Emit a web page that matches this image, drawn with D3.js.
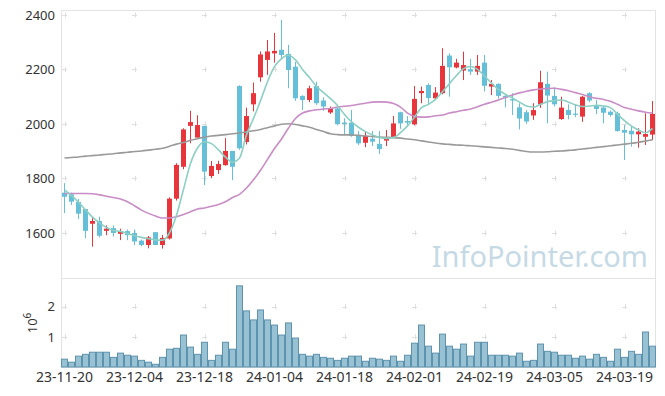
<!DOCTYPE html>
<html>
<head>
<meta charset="utf-8">
<script src="https://cdn.jsdelivr.net/npm/d3@7/dist/d3.min.js"></script>
<style>
  body { margin: 0; background: #fff; }
  svg { display: block; font-family: "Noto Sans", sans-serif; }
</style>
</head>
<body>
<div id="chart"></div>
<script>
// trading days (KRX), one per candle
const dates = [
  "2023-11-20","2023-11-21","2023-11-22","2023-11-23","2023-11-24","2023-11-27","2023-11-28","2023-11-29","2023-11-30","2023-12-01",
  "2023-12-04","2023-12-05","2023-12-06","2023-12-07","2023-12-08","2023-12-11","2023-12-12","2023-12-13","2023-12-14","2023-12-15",
  "2023-12-18","2023-12-19","2023-12-20","2023-12-21","2023-12-22","2023-12-26","2023-12-27","2023-12-28","2024-01-02","2024-01-03",
  "2024-01-04","2024-01-05","2024-01-08","2024-01-09","2024-01-10","2024-01-11","2024-01-12","2024-01-15","2024-01-16","2024-01-17",
  "2024-01-18","2024-01-19","2024-01-22","2024-01-23","2024-01-24","2024-01-25","2024-01-26","2024-01-29","2024-01-30","2024-01-31",
  "2024-02-01","2024-02-02","2024-02-05","2024-02-06","2024-02-07","2024-02-08","2024-02-13","2024-02-14","2024-02-15","2024-02-16",
  "2024-02-19","2024-02-20","2024-02-21","2024-02-22","2024-02-23","2024-02-26","2024-02-27","2024-02-28","2024-02-29","2024-03-04",
  "2024-03-05","2024-03-06","2024-03-07","2024-03-08","2024-03-11","2024-03-12","2024-03-13","2024-03-14","2024-03-15","2024-03-18",
  "2024-03-19","2024-03-20","2024-03-21","2024-03-22","2024-03-25"
];

const openP = [
  1748,1742,1714,1688,1634,1644,1608,1618,1597,1607,
  1600,1572,1556,1603,1556,1580,1726,1843,1993,1950,
  1993,1809,1831,1849,1901,2139,1934,2072,2171,2235,
  2259,2272,2257,2210,2103,2088,2139,2086,2042,2057,
  2005,2005,1960,1931,1946,1927,1939,1951,2043,2011,
  1999,2113,2143,2094,2113,2251,2207,2196,2201,2192,
  2225,2137,2147,2103,2091,2061,2043,2031,2072,2147,
  2103,2018,2051,2038,2027,2113,2066,2060,2045,2039,
  1978,1975,1962,1953,1961
];
const highP = [
  1783,1748,1725,1688,1658,1660,1628,1628,1616,1613,
  1613,1576,1589,1603,1593,1731,1856,1984,2048,2032,
  1993,1864,1865,1948,1901,2142,2060,2152,2266,2308,
  2334,2382,2290,2228,2105,2140,2155,2098,2064,2060,
  2021,2051,1974,1972,1974,1974,1978,2029,2045,2029,
  2139,2137,2149,2135,2278,2259,2239,2265,2238,2253,
  2253,2161,2149,2110,2113,2076,2051,2076,2195,2192,
  2135,2100,2072,2072,2102,2116,2088,2064,2049,2045,
  1996,1990,1984,2039,2084
];
const lowP = [
  1673,1703,1651,1581,1550,1584,1592,1587,1574,1574,
  1556,1551,1544,1556,1543,1576,1719,1834,1929,1950,
  1776,1801,1817,1847,1794,1905,1925,2046,2155,2180,
  2225,2235,2131,2085,2051,2080,2070,2048,2037,1995,
  1963,1953,1923,1915,1919,1890,1919,1948,1982,1996,
  1995,2076,2070,2088,2109,2100,2204,2161,2180,2180,
  2119,2106,2093,2061,2033,1980,2000,2015,2059,2002,
  2064,2015,2017,2025,2008,2080,2036,2002,2027,1972,
  1868,1917,1913,1923,1941
];
const closeP = [
  1733,1715,1671,1608,1644,1590,1616,1600,1607,1592,
  1569,1556,1584,1556,1582,1726,1850,1980,2007,1996,
  1825,1846,1853,1901,1843,1911,2029,2113,2255,2266,
  2268,2253,2198,2094,2088,2131,2076,2064,2057,1999,
  2000,1956,1929,1956,1935,1908,1951,2002,2002,2005,
  2092,2121,2095,2115,2213,2208,2225,2216,2192,2213,
  2140,2147,2103,2098,2086,2020,2009,2051,2153,2104,
  2072,2060,2033,2036,2100,2086,2055,2041,2033,1974,
  1968,1962,1972,1963,2037
];

// volume, millions of shares
const volume = [
  0.26,0.16,0.36,0.42,0.49,0.49,0.49,0.32,0.46,0.39,
  0.36,0.22,0.16,0.09,0.32,0.59,0.62,1.06,0.66,0.42,
  0.82,0.22,0.39,0.82,0.59,2.69,1.86,1.56,1.89,1.56,
  1.39,1.06,1.46,0.96,0.42,0.36,0.42,0.32,0.29,0.22,
  0.29,0.36,0.36,0.19,0.29,0.26,0.22,0.36,0.19,0.39,
  0.79,1.39,0.69,0.46,1.09,0.69,0.59,0.76,0.36,0.82,
  0.82,0.39,0.39,0.39,0.36,0.46,0.19,0.22,0.76,0.52,
  0.49,0.39,0.39,0.29,0.36,0.26,0.42,0.32,0.19,0.59,
  0.32,0.52,0.42,1.16,0.69
];

// moving averages
const ma5 = [
  1758,1737,1713,1685,1658,1637,1620,1609,1606,1598,
  1590,1584,1579,1575,1574,1600,1665,1760,1855,1912,
  1935,1928,1905,1878,1860,1875,1960,2020,2085,2155,
  2210,2240,2252,2235,2200,2170,2138,2115,2093,2068,
  2035,2008,1988,1972,1960,1950,1947,1950,1968,1993,
  2025,2060,2072,2090,2118,2148,2178,2203,2211,2200,
  2176,2150,2126,2108,2095,2080,2066,2062,2072,2082,
  2086,2088,2080,2070,2064,2066,2068,2066,2060,2036,
  2012,1992,1978,1968,1984
];
const ma20 = [
  1745,1745,1745,1745,1744,1740,1735,1730,1725,1715,
  1700,1684,1672,1662,1655,1655,1660,1668,1678,1688,
  1692,1698,1705,1715,1730,1742,1765,1795,1830,1870,
  1910,1945,1985,2020,2040,2048,2052,2055,2057,2062,
  2065,2068,2072,2076,2080,2081,2080,2075,2062,2040,
  2028,2025,2026,2030,2033,2040,2045,2050,2055,2063,
  2072,2080,2088,2097,2106,2114,2120,2125,2128,2130,
  2131,2127,2122,2115,2108,2100,2094,2090,2083,2072,
  2060,2054,2048,2043,2040
];
const ma60 = [
  1875,1877,1879,1882,1884,1886,1889,1891,1894,1896,
  1899,1901,1904,1907,1911,1918,1926,1932,1940,1946,
  1952,1956,1958,1961,1964,1967,1971,1975,1980,1986,
  1993,1999,2001,1998,1993,1988,1980,1972,1964,1961,
  1960,1960,1958,1956,1954,1952,1951,1950,1948,1945,
  1942,1938,1934,1930,1927,1925,1923,1922,1920,1918,
  1916,1914,1912,1910,1907,1903,1899,1897,1897,1898,
  1900,1901,1903,1905,1908,1911,1914,1917,1920,1923,
  1926,1929,1933,1937,1942
];

const priceTicks = [1600, 1800, 2000, 2200, 2400];
const volumeTicks = [1, 2];
const dateTicks = dates.filter((d, i) => i % 10 === 0);

const width = 665, height = 396;
const left = 61, right = 656;
const priceTop = 10, priceBottom = 278, volBottom = 367;

const upColor = '#e8353c', downColor = '#65bfd9';
const frameColor = '#e3e3e3', crossColor = '#dedede', textColor = '#333';

const svg = d3.select('#chart').append('svg')
  .attr('width', width)
  .attr('height', height);

// scales
const x = d3.scaleBand().domain(dates).range([left, right]).padding(0);
const cx = (d) => x(d) + x.bandwidth() / 2;
const y = d3.scaleLinear().domain([1435, 2418]).range([priceBottom, priceTop]);
const yv = d3.scaleLinear().domain([0, 2.95]).range([volBottom, priceBottom]);

// panel frames
svg.append('rect')
  .attr('x', left + 0.5).attr('y', priceTop + 0.5)
  .attr('width', right - left - 1).attr('height', priceBottom - priceTop)
  .attr('fill', 'none').attr('stroke', frameColor);
svg.append('path')
  .attr('d', `M${left + 0.5},${priceBottom}V${volBottom + 0.5}H${right - 0.5}V${priceBottom}`)
  .attr('fill', 'none').attr('stroke', frameColor);

// little "+" markers at tick crossings
function crosses(yVals, yScale) {
  const pts = [];
  dateTicks.forEach((d) => yVals.forEach((v) => pts.push([cx(d), yScale(v)])));
  svg.append('g').selectAll('path')
    .data(pts)
    .join('path')
    .attr('d', (p) => `M${p[0] - 2.5},${Math.round(p[1]) + 0.5}h5M${Math.round(p[0]) + 0.5},${p[1] - 2.5}v5`)
    .attr('stroke', crossColor)
    .attr('stroke-width', 1);
}
crosses(priceTicks, y);
crosses(volumeTicks, yv);

// watermark
svg.append('text')
  .attr('x', 648).attr('y', 267)
  .attr('text-anchor', 'end')
  .attr('font-size', 29)
  .attr('fill', '#c6dae5')
  .text('InfoPointer.com');

// volume bars
svg.append('g').selectAll('rect')
  .data(dates)
  .join('rect')
  .attr('x', (d) => x(d) + 0.5)
  .attr('y', (d, i) => yv(volume[i]))
  .attr('width', x.bandwidth() - 1)
  .attr('height', (d, i) => yv(0) - yv(volume[i]))
  .attr('fill', '#98c1d3')
  .attr('stroke', '#5e93ad')
  .attr('stroke-width', 1);

// candles
const candle = svg.append('g').selectAll('g')
  .data(dates)
  .join('g')
  .attr('fill', (d, i) => closeP[i] >= openP[i] ? upColor : downColor)
  .attr('stroke', (d, i) => closeP[i] >= openP[i] ? upColor : downColor);

candle.append('line')
  .attr('x1', (d) => cx(d)).attr('x2', (d) => cx(d))
  .attr('y1', (d, i) => y(highP[i]))
  .attr('y2', (d, i) => y(lowP[i]))
  .attr('stroke-width', 1);

candle.append('rect')
  .attr('x', (d) => cx(d) - 2.5)
  .attr('width', 5)
  .attr('y', (d, i) => y(Math.max(openP[i], closeP[i])))
  .attr('height', (d, i) => Math.max(1.2, Math.abs(y(openP[i]) - y(closeP[i]))))
  .attr('stroke', 'none');

// moving average lines
const maLine = (vals) => d3.line()
  .x((d) => cx(d))
  .y((d, i) => y(vals[i]))
  .curve(d3.curveMonotoneX)(dates);

[[ma60, '#9a9a9a'], [ma20, '#c98cc6'], [ma5, '#8ccfc3']].forEach(([vals, color]) => {
  svg.append('path')
    .attr('d', maLine(vals))
    .attr('fill', 'none')
    .attr('stroke', color)
    .attr('stroke-width', 1.6);
});

// axes
const yAxis = svg.append('g')
  .attr('transform', `translate(${left},0)`)
  .call(d3.axisLeft(y).tickValues(priceTicks).tickSize(0).tickPadding(6)
    .tickFormat(d3.format('d')));
const vAxis = svg.append('g')
  .attr('transform', `translate(${left},0)`)
  .call(d3.axisLeft(yv).tickValues(volumeTicks).tickSize(0).tickPadding(6)
    .tickFormat(d3.format('d')));
const xAxis = svg.append('g')
  .attr('transform', `translate(0,${volBottom})`)
  .call(d3.axisBottom(x).tickValues(dateTicks).tickSize(0).tickPadding(5)
    .tickFormat((d) => d.slice(2)));

[yAxis, vAxis, xAxis].forEach((g) => {
  g.select('.domain').remove();
  g.selectAll('text')
    .attr('fill', textColor)
    .style('font-size', '13px')
    .style('font-family', '"Noto Sans", sans-serif');
});
xAxis.selectAll('text').style('font-size', '14px');

// volume unit label
const unit = svg.append('text')
  .attr('transform', 'translate(37,323) rotate(-90)')
  .attr('text-anchor', 'middle')
  .attr('fill', textColor)
  .style('font-size', '13px');
unit.append('tspan').text('10');
unit.append('tspan').attr('dy', -6).style('font-size', '10px').text('6');
</script>
</body>
</html>
